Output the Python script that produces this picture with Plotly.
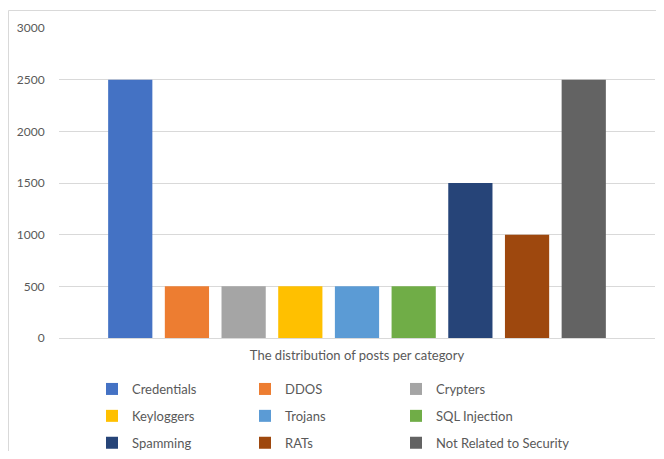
import plotly.graph_objects as go

categories = ["Credentials", "DDOS", "Crypters", "Keyloggers", "Trojans",
              "SQL Injection", "Spamming", "RATs", "Not Related to Security"]
values = [2500, 500, 500, 500, 500, 500, 1500, 1000, 2500]
colors = ["#4472C4", "#ED7D31", "#A5A5A5", "#FFC000", "#5B9BD5",
          "#70AD47", "#264478", "#9E480E", "#636363"]
group_label = ["The distribution of posts per category"]
y_ticks = [0, 500, 1000, 1500, 2000, 2500, 3000]
legend_ids = ["legend", "legend2", "legend3"]

# page body adds an 8px margin around the figure
W, H = 648, 443
ml, mr, mt, mb = 51, 1, 20, 113
pw, ph = W - ml - mr, H - mt - mb

fig = go.Figure()
for i, (name, v, c) in enumerate(zip(categories, values, colors)):
    fig.add_trace(go.Bar(x=group_label, y=[v], name=name, marker_color=c,
                         marker_line_width=0, legendgroup=name,
                         legend=legend_ids[i % 3]))

font = "Lato, 'Open Sans', sans-serif"
legend_style = dict(orientation="v", yanchor="top", xanchor="left",
                    xref="container", yref="container",
                    y=1 - 366 / H, tracegroupgap=7,
                    font=dict(size=13, color="#595959"),
                    itemclick=False, itemdoubleclick=False,
                    bgcolor="rgba(0,0,0,0)")
col_left = [84, 237, 388]

fig.update_layout(
    width=W, height=H,
    margin=dict(l=ml, r=mr, t=mt, b=mb, pad=0, autoexpand=False),
    paper_bgcolor="white", plot_bgcolor="white",
    barmode="group", bargap=0.144, bargroupgap=0.22,
    font=dict(family=font, size=12, color="#595959"),
    xaxis=dict(showline=True, linecolor="#D9D9D9", linewidth=1,
               ticks="", tickfont=dict(size=13, color="#595959"),
               ticklabelstandoff=5),
    yaxis=dict(range=[0, 3000], tickvals=y_ticks, showgrid=True,
               gridcolor="#D9D9D9", gridwidth=1, zeroline=False,
               ticks="outside", ticklen=11, tickcolor="white",
               tickfont=dict(size=12, color="#595959")),
    legend=dict(x=col_left[0] / W, **legend_style),
    legend2=dict(x=col_left[1] / W, **legend_style),
    legend3=dict(x=col_left[2] / W, **legend_style),
    showlegend=True,
)
fig.add_shape(type="rect", xref="paper", yref="paper",
              x0=(0.5 - ml) / pw, x1=(700 - ml) / pw,
              y0=-(470 - (H - mb)) / ph, y1=((H - mb) - 2.5) / ph,
              line=dict(color="#D9D9D9", width=1), fillcolor="rgba(0,0,0,0)",
              layer="below")
fig.write_html("out.html")
